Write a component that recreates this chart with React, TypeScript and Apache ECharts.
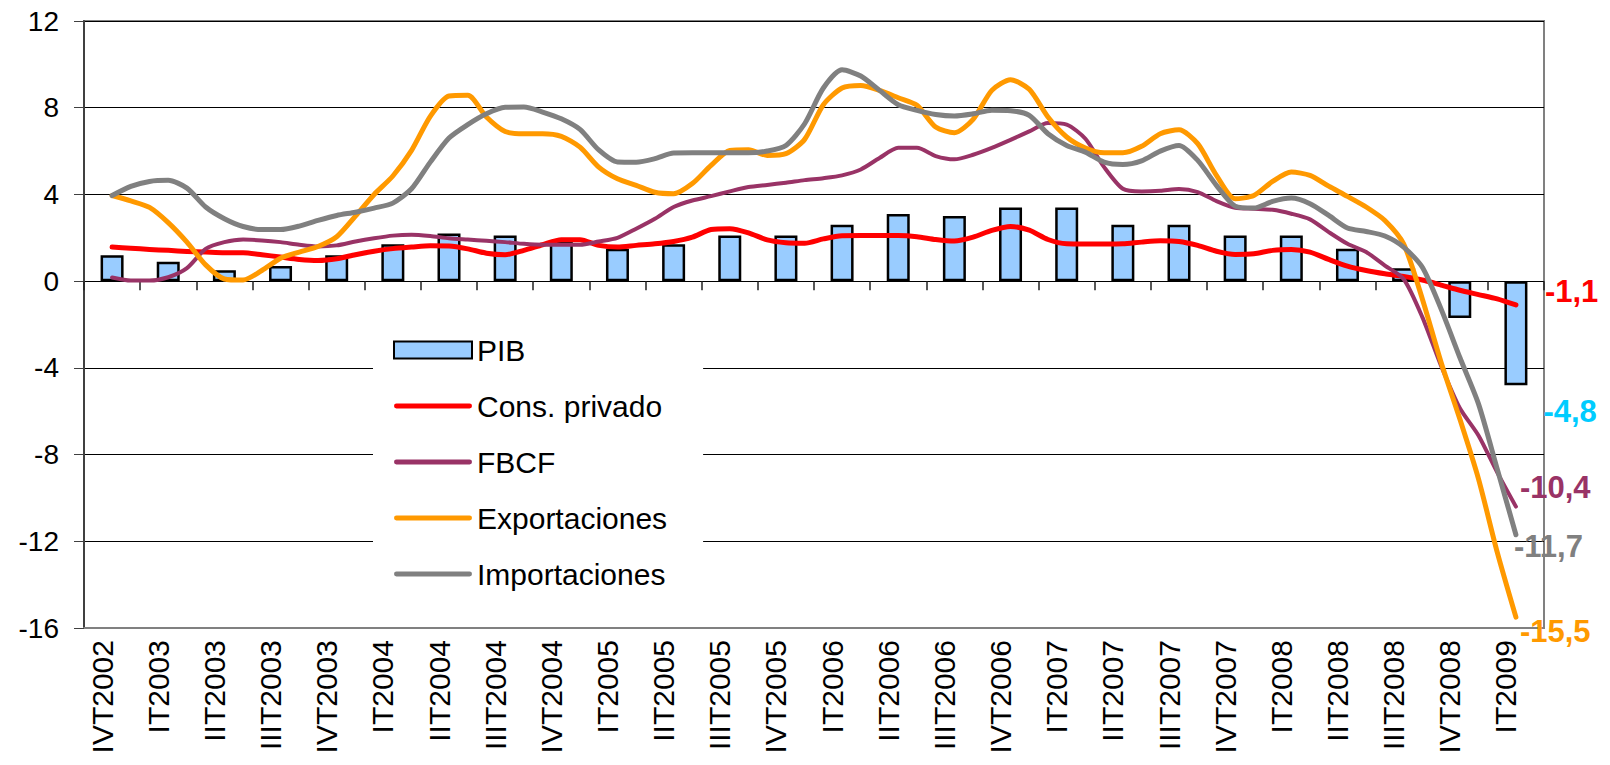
import React, { useEffect, useRef } from "react";
import * as echarts from "echarts";

const FONT = "'Liberation Sans', Arial, sans-serif";

const quarters = [
  "IVT2002", "IT2003", "IIT2003", "IIIT2003", "IVT2003", "IT2004", "IIT2004", "IIIT2004",
  "IVT2004", "IT2005", "IIT2005", "IIIT2005", "IVT2005", "IT2006", "IIT2006", "IIIT2006",
  "IVT2006", "IT2007", "IIT2007", "IIIT2007", "IVT2007", "IT2008", "IIT2008", "IIIT2008",
  "IVT2008", "IT2009",
];

const pib = [
  1.2, 0.9, 0.5, 0.7, 1.2, 1.7, 2.2, 2.1, 1.8, 1.5, 1.7, 2.1, 2.1, 2.6, 3.1, 3.0, 3.4, 3.4,
  2.6, 2.6, 2.1, 2.1, 1.5, 0.6, -1.7, -4.8,
];

// monthly-step series: first point at the middle of IVT2002, last at the middle of IT2009
const consPrivado = [
  1.57, 1.52, 1.46, 1.42, 1.37, 1.34, 1.31, 1.31, 1.22, 1.11,
  1.0, 0.95, 1.03, 1.22, 1.38, 1.5, 1.57, 1.63, 1.62, 1.49,
  1.29, 1.22, 1.42, 1.68, 1.91, 1.91, 1.65, 1.57, 1.65, 1.72,
  1.83, 2.03, 2.38, 2.42, 2.23, 1.9, 1.77, 1.75, 1.95, 2.09,
  2.1, 2.1, 2.1, 2.05, 1.92, 1.85, 2.03, 2.34, 2.52, 2.35,
  1.92, 1.72, 1.71, 1.71, 1.72, 1.8, 1.86, 1.83, 1.65, 1.38,
  1.23, 1.26, 1.42, 1.46, 1.34, 1.0, 0.69, 0.49, 0.34, 0.22,
  0.05, -0.18, -0.42, -0.62, -0.82, -1.1,
];

const fbcf = [
  0.17, 0.03, 0.03, 0.18, 0.6, 1.49, 1.8, 1.92, 1.88, 1.8,
  1.68, 1.6, 1.65, 1.83, 1.98, 2.1, 2.14, 2.08, 1.98, 1.92,
  1.86, 1.8, 1.72, 1.68, 1.68, 1.68, 1.83, 2.0, 2.42, 2.88,
  3.42, 3.72, 3.92, 4.14, 4.34, 4.44, 4.54, 4.66, 4.75, 4.88,
  5.15, 5.68, 6.15, 6.15, 5.77, 5.62, 5.83, 6.15, 6.52, 6.91,
  7.29, 7.22, 6.57, 5.26, 4.26, 4.14, 4.17, 4.25, 4.11, 3.69,
  3.38, 3.34, 3.29, 3.11, 2.85, 2.26, 1.72, 1.34, 0.72, 0.1,
  -1.66, -3.9, -5.85, -7.12, -8.82, -10.4,
];

const exportaciones = [
  3.95, 3.7, 3.4, 2.7, 1.8, 0.75, 0.1, 0.05, 0.49, 1.06,
  1.34, 1.6, 2.05, 3.0, 4.0, 4.85, 6.03, 7.6, 8.54, 8.57,
  7.57, 6.9, 6.8, 6.8, 6.68, 6.18, 5.26, 4.72, 4.42, 4.1,
  4.03, 4.5, 5.34, 6.03, 6.06, 5.8, 5.88, 6.54, 8.14, 8.91,
  9.03, 8.8, 8.46, 8.11, 7.11, 6.85, 7.46, 8.8, 9.29, 8.85,
  7.57, 6.65, 6.14, 5.92, 5.92, 6.22, 6.8, 6.98, 6.34, 4.88,
  3.8, 3.95, 4.6, 5.03, 4.88, 4.38, 3.91, 3.42, 2.8, 1.72,
  -0.82, -3.74, -6.35, -9.12, -12.5, -15.5,
];

const importaciones = [
  3.95, 4.37, 4.6, 4.65, 4.29, 3.42, 2.88, 2.52, 2.38, 2.38,
  2.54, 2.8, 3.03, 3.18, 3.37, 3.6, 4.26, 5.49, 6.6, 7.22,
  7.72, 8.02, 8.03, 7.8, 7.49, 7.0, 6.05, 5.5, 5.49, 5.65,
  5.91, 5.92, 5.92, 5.92, 5.92, 6.0, 6.26, 7.26, 8.91, 9.75,
  9.46, 8.8, 8.14, 7.88, 7.69, 7.62, 7.72, 7.88, 7.86, 7.65,
  6.8, 6.26, 5.95, 5.49, 5.38, 5.55, 6.0, 6.26, 5.57, 4.42,
  3.46, 3.37, 3.68, 3.83, 3.57, 3.03, 2.45, 2.29, 2.08, 1.57,
  0.64, -1.28, -3.51, -5.66, -8.66, -11.7,
];

const yTicks = { min: -16, max: 12, interval: 4 };

const GRID = { left: 84, right: 66, top: 21, bottom: 137 };
const H = 765;

const LINE_ICON = "path://M1,0H31A1,1,0,0,1,31,2H1A1,1,0,0,1,1,0Z";

export default function App() {
  const ref = useRef<HTMLDivElement>(null);

  useEffect(() => {
    if (!ref.current) return;
    const chart = echarts.init(ref.current, null, { renderer: "svg" });
    const months = quarters.flatMap((q) => [q + "-a", q + "-b", q + "-c"]);
    const fmt = (v: number) => String(v).replace(".", ",");
    const lineData = (arr: number[]) => [null, ...arr];
    // distance from grid top to the zero line (the tick axis crosses at 0)
    const plotH = H - GRID.top - GRID.bottom;
    const zeroFromTop = (plotH * yTicks.max) / (yTicks.max - yTicks.min);

    const endLabel = (color: string, offset: number[]) => ({
      show: true,
      formatter: (p: any) => fmt(Array.isArray(p.value) ? p.value[1] : p.value),
      color,
      fontWeight: "bold",
      fontSize: 31,
      fontFamily: FONT,
      offset,
    });
    const lineSeries = (name: string, data: number[], color: string, width: number, offset: number[]) => ({
      name,
      type: "line",
      xAxisIndex: 2,
      data: lineData(data),
      symbol: "none",
      smooth: 0.25,
      lineStyle: { color, width, cap: "round", join: "round" },
      itemStyle: { color },
      endLabel: endLabel(color, offset),
      z: 3,
    });

    chart.setOption({
      animation: false,
      textStyle: { fontFamily: FONT },
      grid: {
        ...GRID,
        show: true,
        borderColor: "#808080",
        borderWidth: 2,
      },
      legend: {
        orient: "vertical",
        left: 373,
        top: 319,
        itemWidth: 78,
        itemHeight: 17,
        itemGap: 26,
        padding: [16, 36, 16, 20],
        backgroundColor: "#ffffff",
        textStyle: { fontSize: 30, color: "#000", fontFamily: FONT },
        data: [
          { name: "PIB", icon: "rect" },
          { name: "Cons. privado", icon: LINE_ICON },
          { name: "FBCF", icon: LINE_ICON },
          { name: "Exportaciones", icon: LINE_ICON },
          { name: "Importaciones", icon: LINE_ICON },
        ],
      },
      xAxis: [
        {
          // quarter labels along the bottom
          type: "category",
          data: quarters,
          position: "bottom",
          boundaryGap: true,
          axisLine: { show: true, onZero: false, lineStyle: { color: "#808080", width: 2 } },
          axisTick: { show: false },
          axisLabel: {
            rotate: 90,
            interval: 0,
            fontSize: 30,
            color: "#000",
            margin: 12,
            fontFamily: FONT,
            verticalAlign: "bottom",
            lineHeight: 20,
          },
          splitLine: { show: false },
        },
        {
          // category axis crossing at 0: tick marks between quarters
          type: "category",
          data: quarters,
          position: "top",
          offset: -zeroFromTop,
          boundaryGap: true,
          axisLine: { show: false, onZero: false },
          axisTick: {
            show: true,
            inside: true,
            interval: 0,
            length: 9,
            lineStyle: { color: "#222", width: 1.5 },
          },
          axisLabel: { show: false },
          splitLine: { show: false },
        },
        {
          // monthly steps for the line series
          type: "category",
          data: months,
          show: false,
          boundaryGap: true,
        },
      ],
      yAxis: {
        type: "value",
        min: yTicks.min,
        max: yTicks.max,
        interval: yTicks.interval,
        axisLine: { show: true, onZero: false, lineStyle: { color: "#404040", width: 2 } },
        axisTick: { show: true, length: 10, lineStyle: { color: "#404040", width: 1 } },
        axisLabel: { fontSize: 28, color: "#000", margin: 25, fontFamily: FONT },
        splitLine: { show: true, lineStyle: { color: "#000", width: 1 } },
      },
      series: [
        {
          name: "PIB",
          type: "bar",
          xAxisIndex: 0,
          barWidth: 23,
          itemStyle: { color: "#99CCFF", borderColor: "#000", borderWidth: 2.5 },
          data: pib.map((v, i) =>
            i === pib.length - 1
              ? {
                  value: v,
                  label: {
                    show: true,
                    position: "right",
                    formatter: (p: any) => fmt(p.value),
                    color: "#00CCFF",
                    fontWeight: "bold",
                    fontSize: 31,
                    fontFamily: FONT,
                    offset: [11, 78],
                  },
                }
              : v
          ),
          z: 2,
        },
        lineSeries("Cons. privado", consPrivado, "#FF0000", 5, [21, -13]),
        lineSeries("FBCF", fbcf, "#993366", 4, [-4, -19]),
        lineSeries("Exportaciones", exportaciones, "#FF9900", 5, [-4, 14]),
        lineSeries("Importaciones", importaciones, "#808080", 5, [-10, 12]),
      ],
    });

    return () => chart.dispose();
  }, []);

  return (
    <div
      ref={ref}
      style={{ position: "absolute", left: 0, top: 0, width: 1610, height: 765, background: "#fff" }}
    />
  );
}
